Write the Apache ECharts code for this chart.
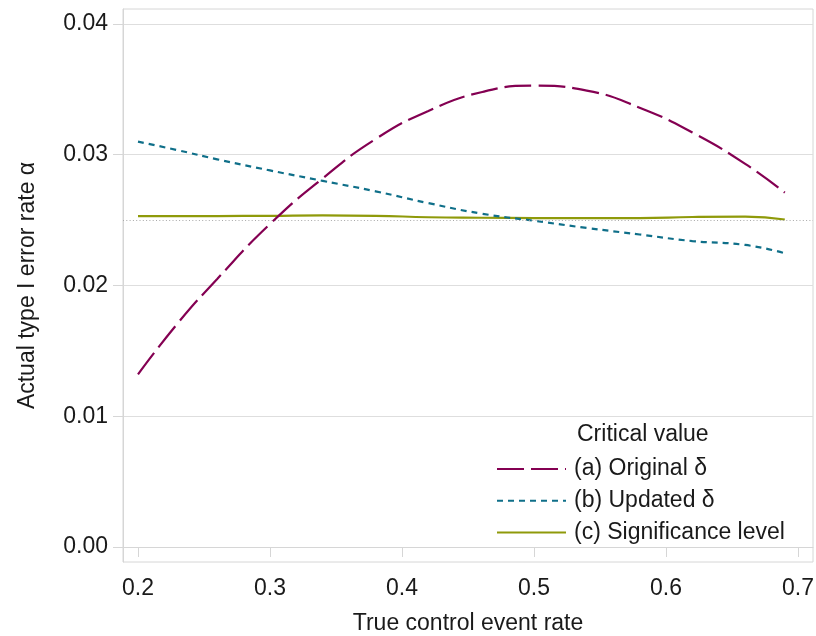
<!DOCTYPE html>
<html>
<head>
<meta charset="utf-8">
<script src="https://cdn.jsdelivr.net/npm/echarts@6/dist/echarts.min.js"></script>
<style>html,body{margin:0;padding:0;background:#fff}#c{width:816px;height:636px}</style>
</head>
<body>
<div id="c"></div>
<script>
// x positions (true control event rate)
var xValues = [0.20, 0.23, 0.26, 0.30, 0.34, 0.38, 0.42, 0.46, 0.50, 0.54, 0.58, 0.62, 0.66, 0.69];
// (a) Original delta
var originalDelta = [0.0132, 0.0171, 0.0205, 0.0247, 0.0282, 0.0312, 0.03335, 0.03478, 0.03528, 0.0349, 0.0336, 0.0317, 0.0293, 0.0271];
// (b) Updated delta
var updatedDelta = [0.0310, 0.03035, 0.02965, 0.0288, 0.0280, 0.0272, 0.0263, 0.0255, 0.02495, 0.0244, 0.0239, 0.0234, 0.0231, 0.02247];
// (c) Significance level
var significance = [0.02530, 0.02530, 0.02531, 0.02533, 0.02536, 0.02533, 0.02522, 0.02518, 0.02516, 0.02515, 0.02516, 0.02524, 0.02527, 0.02505];
// reference level
var nominalAlpha = 0.025;
// tick labels
var xTicks = [0.2, 0.3, 0.4, 0.5, 0.6, 0.7];
var yTicks = [0.00, 0.01, 0.02, 0.03, 0.04];

function pairs(ys) { return xValues.map(function (x, i) { return [x, ys[i]]; }); }

var X_MIN = 0.2 - 15 / 1320, X_MAX = 0.7 + 15 / 1320;
var FONT = '"Liberation Sans", Arial, sans-serif';
var TXT = '#1a1a1a';
var chart = echarts.init(document.getElementById('c'));
chart.setOption({
  animation: false,
  backgroundColor: '#fff',
  textStyle: { fontFamily: FONT },
  title: {
    text: 'Critical value', left: 572, top: 418,
    textStyle: { fontFamily: FONT, fontSize: 23, fontWeight: 'normal', color: TXT }
  },
  grid: {
    left: 123, right: 3, top: 9, bottom: 74, outerBoundsMode: 'none', containLabel: false,
    show: true, borderColor: '#d6d6d6', borderWidth: 1, backgroundColor: '#fff'
  },
  legend: {
    orient: 'vertical', left: 491, top: 452,
    itemWidth: 69, itemHeight: 14, itemGap: 7.7,
    itemStyle: { opacity: 0 },
    textStyle: { fontFamily: FONT, fontSize: 23, color: TXT, lineHeight: 24, padding: [0, 0, 0, 3] },
    data: ['(a) Original δ', '(b) Updated δ', '(c) Significance level']
  },
  xAxis: {
    type: 'value', min: X_MIN, max: X_MAX,
    name: 'True control event rate', nameLocation: 'middle', nameGap: 50,
    nameTextStyle: { fontFamily: FONT, fontSize: 23, color: TXT },
    axisLine: { show: true, lineStyle: { color: '#d6d6d6' } },
    axisTick: { show: true, length: 10, customValues: xTicks, lineStyle: { color: '#d6d6d6' } },
    axisLabel: { customValues: xTicks, margin: 15, fontSize: 23, color: TXT, fontFamily: FONT,
      formatter: function (v) { return v.toFixed(1); } },
    splitLine: { show: false }
  },
  yAxis: {
    type: 'value', min: -15 / 13100, max: 0.04 + 15 / 13100,
    name: 'Actual type I error rate α', nameLocation: 'middle', nameGap: 84,
    nameTextStyle: { fontFamily: FONT, fontSize: 23, color: TXT },
    axisLine: { show: true, lineStyle: { color: '#d6d6d6' } },
    axisTick: { show: true, length: 10, customValues: yTicks, lineStyle: { color: '#d6d6d6' } },
    axisLabel: { customValues: yTicks, margin: 15, fontSize: 23, color: TXT, fontFamily: FONT,
      formatter: function (v) { return v.toFixed(2); } },
    splitLine: { show: true, lineStyle: { color: '#dedede', width: 1 } }
  },
  series: [
    {
      name: '(c) Significance level', type: 'line', data: pairs(significance), smooth: true,
      showSymbol: false, symbol: 'none', z: 3,
      lineStyle: { color: '#8f9a0a', width: 2.2, type: 'solid' }, itemStyle: { color: '#8f9a0a' },
      markLine: {
        silent: true, symbol: 'none', label: { show: false }, precision: 6,
        lineStyle: { color: '#a8a8a8', type: [1, 2.3], width: 1 },
        data: [[{ coord: [X_MIN, nominalAlpha] }, { coord: [X_MAX, nominalAlpha] }]]
      }
    },
    {
      name: '(b) Updated δ', type: 'line', data: pairs(updatedDelta), smooth: true,
      showSymbol: false, symbol: 'none', z: 4,
      lineStyle: { color: '#0f6f89', width: 2.2, type: [6, 5] }, itemStyle: { color: '#0f6f89' }
    },
    {
      name: '(a) Original δ', type: 'line', data: pairs(originalDelta), smooth: true,
      showSymbol: false, symbol: 'none', z: 5,
      lineStyle: { color: '#840052', width: 2.2, type: [27, 7] }, itemStyle: { color: '#840052' }
    }
  ]
});
</script>
</body>
</html>
